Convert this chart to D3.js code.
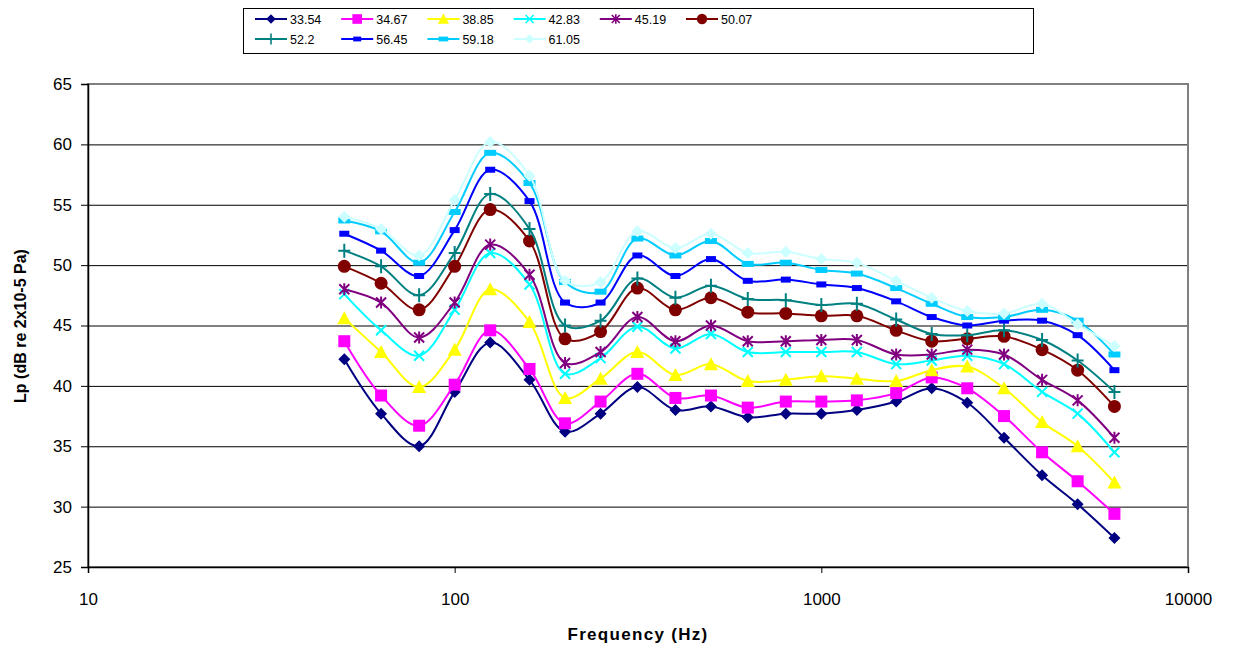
<!DOCTYPE html>
<html>
<head>
<meta charset="utf-8">
<script src="https://cdn.jsdelivr.net/npm/d3@7"></script>
<style>
body { margin:0; background:#fff; }
text { font-family: "Liberation Sans", Arial, sans-serif; }
</style>
</head>
<body>
<div id="chart"></div>
<script>
// third-octave band centres
var freqs = [50,63,80,100,125,160,200,250,315,400,500,630,800,1000,1250,1600,2000,2500,3150,4000,5000,6300];
var names = ["33.54","34.67","38.85","42.83","45.19","50.07","52.2","56.45","59.18","61.05"];
var colors = ["#000080","#ff00ff","#ffff00","#00ffff","#800080","#800000","#008080","#0000ff","#00ccff","#ccffff"];
var shapes = ["diamond","square","triangle","x","star","circle","plus","smallrect","rect","diamond"];

var s1 = [42.2,37.7,35.0,39.5,43.6,40.5,36.2,37.7,39.9,38.0,38.3,37.4,37.7,37.7,38.0,38.7,39.8,38.6,35.7,32.6,30.2,27.4];
var s2 = [43.7,39.2,36.7,40.1,44.6,41.4,36.9,38.7,41.0,39.0,39.2,38.2,38.7,38.7,38.8,39.4,40.7,39.8,37.5,34.5,32.1,29.4];
var s3 = [45.6,42.8,39.9,43.0,48.0,45.3,39.0,40.6,42.8,40.9,41.8,40.4,40.5,40.8,40.6,40.4,41.3,41.6,39.8,37.0,35.0,32.0];
var s4 = [47.6,44.6,42.5,46.3,51.0,48.4,41.0,42.3,44.9,43.1,44.3,42.8,42.8,42.8,42.8,41.8,42.1,42.5,41.8,39.5,37.7,34.5];
var s5 = [48.0,46.9,44.0,46.9,51.7,49.2,41.9,42.8,45.7,43.7,45.0,43.7,43.7,43.8,43.8,42.6,42.6,43.0,42.6,40.5,38.8,35.7];
var s6 = [49.9,48.5,46.3,49.9,54.6,52.0,43.9,44.5,48.1,46.3,47.3,46.1,46.0,45.8,45.8,44.6,43.7,43.9,44.1,43.0,41.3,38.3];
var s7 = [51.2,49.9,47.5,51.0,55.9,53.0,45.0,45.4,48.9,47.3,48.3,47.2,47.1,46.7,46.8,45.5,44.3,44.2,44.6,43.8,42.1,39.5];
var s8 = [52.6,51.2,49.1,52.9,57.9,55.3,46.9,46.9,50.8,49.1,50.5,48.7,48.8,48.4,48.1,47.0,45.7,45.0,45.4,45.4,44.2,41.3];
var s9 = [53.7,52.8,50.2,54.4,59.3,56.8,48.6,47.8,52.2,50.8,52.0,50.1,50.2,49.6,49.3,48.1,46.8,45.7,45.7,46.3,45.4,42.6];
var s10 = [54.0,53.0,50.8,55.4,60.2,57.4,48.7,48.6,52.8,51.4,52.6,51.0,51.1,50.5,50.2,48.7,47.3,46.2,46.0,46.8,45.1,43.3];
var series = [s1,s2,s3,s4,s5,s6,s7,s8,s9,s10];

var xTicks = [10,100,1000,10000];
var yTicks = [25,30,35,40,45,50,55,60,65];

var W = 1235, H = 646;
var svg = d3.select("#chart").append("svg").attr("width",W).attr("height",H);

var x = d3.scaleLog().domain([10,10000]).range([88,1188]);
var y = d3.scaleLinear().domain([25,65]).range([567,84]);

// gridlines
svg.append("g").selectAll("line").data(yTicks.slice(1,-1)).enter().append("line")
  .attr("x1",88).attr("x2",1188)
  .attr("y1",d=>y(d)+0.5).attr("y2",d=>y(d)+0.5)
  .attr("stroke","#000").attr("stroke-width",1);

// frame
svg.append("rect").attr("x",88).attr("y",84).attr("width",1100).attr("height",483)
  .attr("fill","none").attr("stroke","#808080").attr("stroke-width",2);

// axes
var yAxis = svg.append("g").attr("transform","translate(88,0)")
  .call(d3.axisLeft(y).tickValues(yTicks).tickSize(7).tickPadding(9));
var xAxis = svg.append("g").attr("transform","translate(0,567)")
  .call(d3.axisBottom(x).tickValues(xTicks).tickFormat(d3.format("d")).tickSize(6).tickPadding(20));
[yAxis,xAxis].forEach(function(a){
  a.select(".domain").attr("stroke","#000").attr("stroke-width",1.5);
  a.selectAll(".tick line").attr("stroke","#000");
  a.selectAll(".tick text").attr("font-size",17).attr("fill","#000")
    .attr("font-family","'Liberation Sans', Arial, sans-serif");
});

svg.append("text").attr("x",638).attr("y",640).attr("text-anchor","middle")
  .attr("font-size",17).attr("font-weight","bold").attr("letter-spacing",1.3)
  .text("Frequency (Hz)");
svg.append("text").attr("transform","translate(26,326) rotate(-90)").attr("text-anchor","middle")
  .attr("font-size",16).attr("font-weight","bold")
  .text("Lp (dB re 2x10-5 Pa)");

function marker(g, shape, color){
  if (shape==="diamond") g.append("path").attr("d","M0,-6L6,0L0,6L-6,0Z").attr("fill",color);
  else if (shape==="square") g.append("rect").attr("x",-6).attr("y",-6).attr("width",12).attr("height",12).attr("fill",color);
  else if (shape==="triangle") g.append("path").attr("d","M0,-7L7,6L-7,6Z").attr("fill",color);
  else if (shape==="x") g.append("path").attr("d","M-5,-5L5,5M-5,5L5,-5").attr("stroke",color).attr("stroke-width",2).attr("fill","none");
  else if (shape==="star") g.append("path").attr("d","M-5,-5L5,5M-5,5L5,-5M0,-6L0,6").attr("stroke",color).attr("stroke-width",2).attr("fill","none");
  else if (shape==="circle") g.append("circle").attr("r",6.5).attr("fill",color);
  else if (shape==="plus") g.append("path").attr("d","M-6,0L6,0M0,-7L0,7").attr("stroke",color).attr("stroke-width",2).attr("fill","none");
  else if (shape==="smallrect") g.append("rect").attr("x",-5).attr("y",-3).attr("width",10).attr("height",6).attr("fill",color);
  else if (shape==="rect") g.append("rect").attr("x",-6).attr("y",-3).attr("width",12).attr("height",6).attr("fill",color);
}

var line = d3.line().x((d,i)=>x(freqs[i])).y(d=>y(d)).curve(d3.curveCatmullRom.alpha(0.5));

series.forEach(function(s,k){
  svg.append("path").datum(s).attr("d",line).attr("fill","none")
    .attr("stroke",colors[k]).attr("stroke-width",2);
  s.forEach(function(v,i){
    marker(svg.append("g").attr("transform","translate("+x(freqs[i])+","+y(v)+")"), shapes[k], colors[k]);
  });
});

// legend
var lg = svg.append("g");
lg.append("rect").attr("x",243.5).attr("y",8.5).attr("width",790).attr("height",45)
  .attr("fill","#fff").attr("stroke","#000").attr("stroke-width",1);
names.forEach(function(n,k){
  var col = k%6, row = Math.floor(k/6);
  var lx = 255 + col*86.2, ly = 19 + row*20;
  var g = lg.append("g");
  g.append("line").attr("x1",lx).attr("x2",lx+32).attr("y1",ly).attr("y2",ly)
    .attr("stroke",colors[k]).attr("stroke-width",2);
  marker(g.append("g").attr("transform","translate("+(lx+16)+","+ly+") scale(0.8)"), shapes[k], colors[k]);
  g.append("text").attr("x",lx+35).attr("y",ly+4.5).attr("font-size",12.5).text(n);
});
</script>
</body>
</html>
